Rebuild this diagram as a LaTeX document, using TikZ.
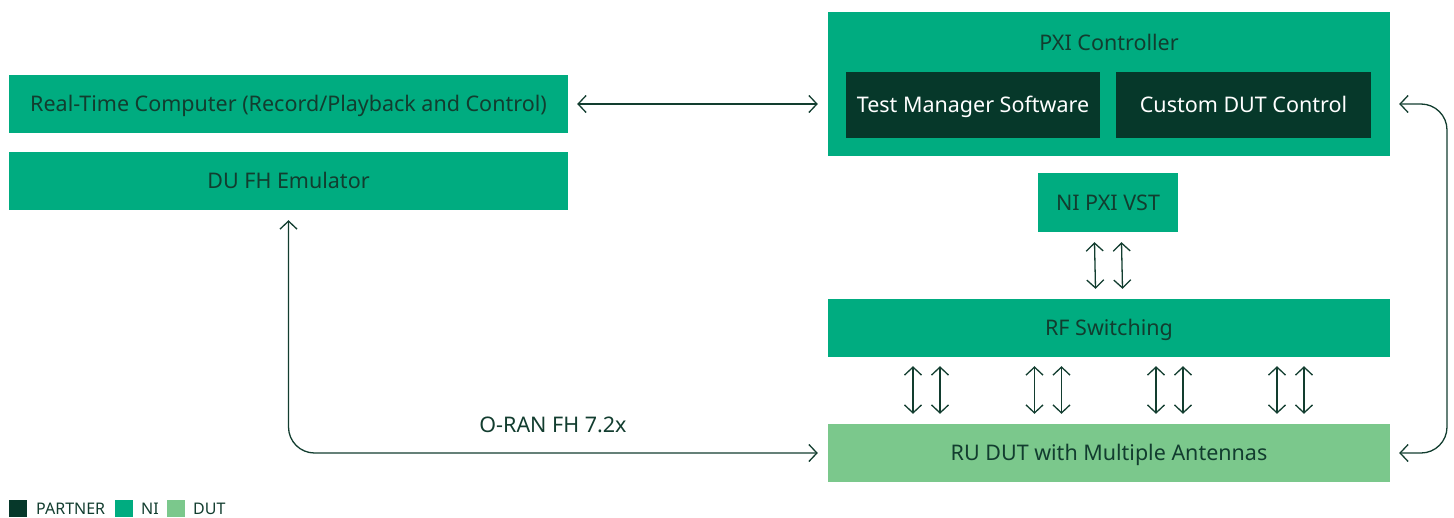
\documentclass[tikz,border=0pt]{standalone}
\usepackage{fontspec}
\setmainfont{Noto Sans}
\usetikzlibrary{arrows.meta,calc}
\definecolor{ni}{HTML}{00AC80}
\definecolor{partner}{HTML}{06382A}
\definecolor{dut}{HTML}{7BC88C}
\definecolor{ink}{HTML}{123D2F}
\begin{document}
\begin{tikzpicture}[x=1pt,y=-1pt,
  box/.style={rectangle, inner sep=0pt, text=ink, font=\fontsize{21.5}{24}\selectfont, text height=15.35pt, text depth=0pt},
  nibox/.style={box, fill=ni},
  dutbox/.style={box, fill=dut},
  pbox/.style={box, fill=partner, text=white},
  conn/.style={draw=ink, line width=1.3pt, {Straight Barb[length=8pt,width=17pt]}-{Straight Barb[length=8pt,width=17pt]}},
  legsq/.style={rectangle, inner sep=0pt, minimum width=18pt, minimum height=17pt},
  legtxt/.style={anchor=west, inner sep=0pt, text=ink, font=\fontsize{16}{18}\selectfont, text height=11.4pt, text depth=0pt}
]
\useasboundingbox (0,0) rectangle (1454,517);

% left boxes
\node[nibox, minimum width=559pt, minimum height=58pt] (rt) at (288.5,104) {Real-Time Computer (Record/Playback and Control)};
\node[nibox, minimum width=559pt, minimum height=58pt] (du) at (288.5,181) {DU FH Emulator};

% PXI controller
\node[nibox, minimum width=562pt, minimum height=144pt] (pxi) at (1109,84) {};
\node[box, inner sep=0pt] (pxit) at (1109,43) {PXI Controller};
\node[pbox, minimum width=254pt, minimum height=66pt] (tms) at (973,105) {Test Manager Software};
\node[pbox, minimum width=255pt, minimum height=66pt] (cdc) at (1243.5,105) {Custom DUT Control};

\node[nibox, minimum width=140pt, minimum height=59pt] (vst) at (1108,202.5) {NI PXI VST};
\node[nibox, minimum width=562pt, minimum height=58pt] (rf) at (1109,328) {RF Switching};
\node[dutbox, minimum width=562pt, minimum height=58pt] (ru) at (1109,453) {RU DUT with Multiple Antennas};

% connectors
\draw[conn] ($(rt.east)+(9,0)$) -- ($(pxi.west|-rt.east)+(-10,0)$);

\coordinate (rA) at ($(pxi.east|-rt.east)+(9,0)$);
\coordinate (rB) at ($(ru.east)+(9,0)$);
\draw[conn, rounded corners=26pt] (rA) -- (1447,104) -- (1447,453) -- (rB);

\coordinate (oA) at ($(du.south)+(0,10)$);
\coordinate (oB) at ($(ru.west)+(-10,0)$);
\draw[conn, rounded corners=26pt] (oA) -- (288.5,453) -- (oB);
\node[box, text=ink] (oran) at (553,425) {O-RAN FH 7.2x};

\foreach \dx in {-13.5,13.5}{
  \draw[conn] ($(vst.south)+(\dx,10)$) -- ($(rf.north)+(\dx,-10)$);
}
\foreach \cx in {926.5,1048,1169.5,1290.5}{
  \foreach \dx in {-13.5,13.5}{
    \draw[conn] ($(rf.south-|\cx,0)+(\dx,9)$) -- ($(ru.north-|\cx,0)+(\dx,-10)$);
  }
}

% legend
\node[legsq, fill=partner] (lp) at (18,508.5) {};
\node[legtxt] (lpt) at (36,508.5) {PARTNER};
\node[legsq, fill=ni] (ln) at (124,508.5) {};
\node[legtxt] (lnt) at (141,508.5) {NI};
\node[legsq, fill=dut] (ld) at (176,508.5) {};
\node[legtxt] (ldt) at (193,508.5) {DUT};
\end{tikzpicture}
\end{document}
